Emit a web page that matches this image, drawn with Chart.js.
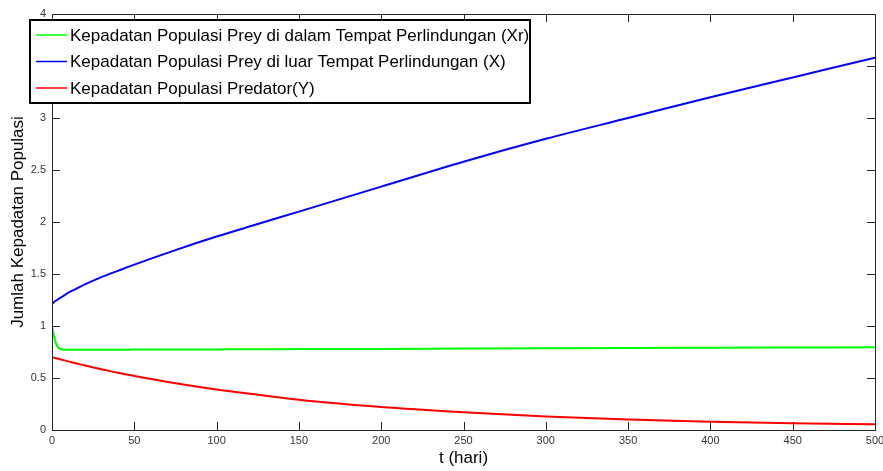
<!DOCTYPE html>
<html lang="en">
<head>
    <meta charset="UTF-8">
    <title>Jumlah Kepadatan Populasi</title>
    <style>
        html, body { margin: 0; padding: 0; background: #fff; }
        #wrap { width: 883px; height: 471px; }
    </style>
</head>
<body>
    <div id="wrap"><canvas id="popChart" width="883" height="471"></canvas></div>

    <script src="https://cdn.jsdelivr.net/npm/chart.js"></script>
    <script>
        // time (hari)
        const tHari = [0, 1, 2, 3, 4, 5, 7, 10, 15, 20, 30, 40, 50, 75, 100, 125, 150, 200, 250, 300, 350, 400, 450, 500];
        // prey in refuge (Xr)
        const preyRefuge = [1.00, 0.92, 0.85, 0.81, 0.79, 0.78, 0.772, 0.772, 0.772, 0.772, 0.772, 0.772, 0.773, 0.774, 0.775, 0.776, 0.778, 0.780, 0.783, 0.786, 0.789, 0.791, 0.793, 0.795];
        // prey outside refuge (X)
        const preyOutside = [1.21, 1.225, 1.24, 1.25, 1.26, 1.27, 1.29, 1.32, 1.36, 1.40, 1.47, 1.53, 1.59, 1.73, 1.86, 1.98, 2.10, 2.34, 2.58, 2.80, 3.00, 3.20, 3.39, 3.58];
        // predator (Y)
        const predator = [0.70, 0.696, 0.692, 0.688, 0.684, 0.68, 0.672, 0.66, 0.64, 0.62, 0.585, 0.55, 0.52, 0.45, 0.39, 0.34, 0.29, 0.22, 0.17, 0.13, 0.10, 0.08, 0.065, 0.055];

        const xTicks = [0, 50, 100, 150, 200, 250, 300, 350, 400, 450, 500];
        const yTicks = [0, 0.5, 1, 1.5, 2, 2.5, 3, 3.5, 4];

        const seriesLabels = [
            'Kepadatan Populasi Prey di dalam Tempat Perlindungan (Xr)',
            'Kepadatan Populasi Prey di luar Tempat Perlindungan (X)',
            'Kepadatan Populasi Predator(Y)'
        ];
        const seriesColors = ['#00ff00', '#0000ff', '#ff0000'];

        const toPoints = vals => vals.map((v, i) => ({ x: tHari[i], y: v }));

        const FONT = 'Arial, "Liberation Sans", sans-serif';

        // inward ticks on all four sides, matlab style
        const inwardTicks = {
            id: 'inwardTicks',
            afterDatasetsDraw(chart) {
                const { ctx, chartArea: a, scales } = chart;
                const len = 8;
                ctx.save();
                ctx.strokeStyle = '#262626';
                ctx.lineWidth = 1;
                ctx.beginPath();
                xTicks.forEach(v => {
                    const px = Math.round(scales.x.getPixelForValue(v)) + 0.5;
                    ctx.moveTo(px, a.bottom); ctx.lineTo(px, a.bottom - len);
                    ctx.moveTo(px, a.top); ctx.lineTo(px, a.top + len);
                });
                yTicks.forEach(v => {
                    const py = Math.round(scales.y.getPixelForValue(v)) + 0.5;
                    ctx.moveTo(a.left, py); ctx.lineTo(a.left + len, py);
                    ctx.moveTo(a.right, py); ctx.lineTo(a.right - len, py);
                });
                ctx.stroke();
                ctx.strokeRect(Math.round(a.left) + 0.5, Math.round(a.top) + 0.5,
                    Math.round(a.right - a.left), Math.round(a.bottom - a.top));
                ctx.restore();
            }
        };

        // boxed legend at the top-left corner
        const boxLegend = {
            id: 'boxLegend',
            afterDraw(chart) {
                const ctx = chart.ctx;
                const box = { x: 30, y: 20, w: 500, h: 83 };
                ctx.save();
                ctx.fillStyle = '#fff';
                ctx.fillRect(box.x, box.y, box.w, box.h);
                ctx.strokeStyle = '#000';
                ctx.lineWidth = 2;
                ctx.strokeRect(box.x, box.y, box.w, box.h);
                ctx.font = '17px ' + FONT;
                ctx.textBaseline = 'middle';
                chart.data.datasets.forEach((ds, i) => {
                    const cy = box.y + 15 + i * 26.5;
                    ctx.strokeStyle = ds.borderColor;
                    ctx.lineWidth = 1.5;
                    ctx.beginPath();
                    ctx.moveTo(36, cy); ctx.lineTo(67, cy);
                    ctx.stroke();
                    ctx.fillStyle = '#000';
                    ctx.fillText(ds.label, 70, cy + 1);
                });
                ctx.restore();
            }
        };

        new Chart(document.getElementById('popChart'), {
            type: 'line',
            data: {
                datasets: [preyRefuge, preyOutside, predator].map((vals, i) => ({
                    label: seriesLabels[i],
                    data: toPoints(vals),
                    borderColor: seriesColors[i],
                    backgroundColor: seriesColors[i],
                    borderWidth: 2,
                    pointRadius: 0,
                    cubicInterpolationMode: 'monotone',
                    fill: false
                }))
            },
            options: {
                responsive: false,
                animation: false,
                layout: { padding: { top: 14, right: 8, left: 0, bottom: 0 } },
                plugins: {
                    legend: { display: false },
                    tooltip: { enabled: false }
                },
                scales: {
                    x: {
                        type: 'linear',
                        min: 0,
                        max: 500,
                        afterBuildTicks: s => { s.ticks = xTicks.map(v => ({ value: v })); },
                        afterFit: s => { s.height = 41; s.paddingLeft = 0; s.paddingRight = 0; },
                        grid: { display: false, drawTicks: false },
                        border: { display: false },
                        ticks: { color: '#333', padding: 4, font: { size: 11, family: FONT }, callback: v => String(v) },
                        title: {
                            display: true,
                            text: 't (hari)',
                            color: '#000',
                            font: { size: 17, family: FONT },
                            padding: { top: 0, bottom: 2 }
                        }
                    },
                    y: {
                        min: 0,
                        max: 4,
                        afterBuildTicks: s => { s.ticks = yTicks.map(v => ({ value: v })); },
                        afterFit: s => { s.width = 52; s.paddingTop = 0; s.paddingBottom = 0; },
                        grid: { display: false, drawTicks: false },
                        border: { display: false },
                        ticks: { color: '#333', padding: 6, font: { size: 11, family: FONT }, callback: v => String(v) },
                        title: {
                            display: true,
                            text: 'Jumlah Kepadatan Populasi',
                            color: '#000',
                            font: { size: 17, family: FONT },
                            padding: { top: 8, bottom: 0 }
                        }
                    }
                }
            },
            plugins: [inwardTicks, boxLegend]
        });
    </script>
</body>
</html>
